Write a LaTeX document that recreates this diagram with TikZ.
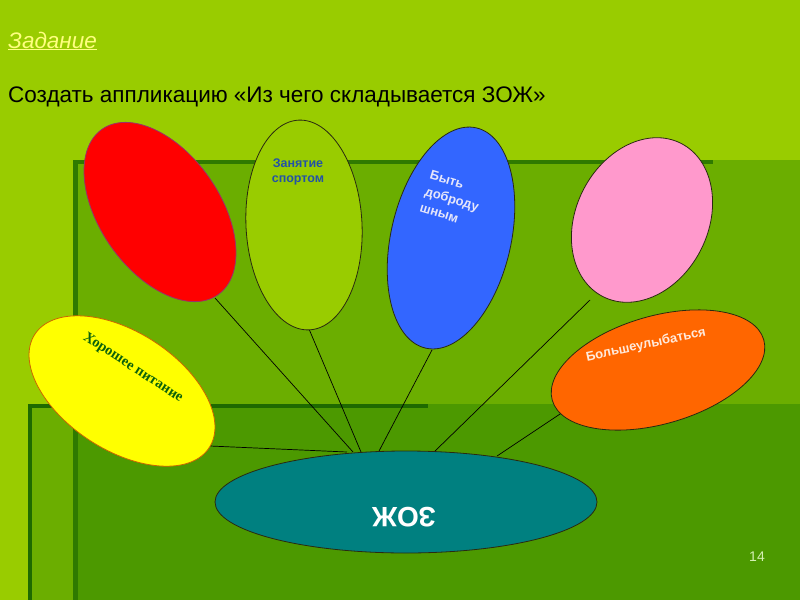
\documentclass[tikz,border=0pt]{standalone}
\usepackage{fontspec}
\setmainfont{Liberation Sans}
\newfontfamily\serifru{Liberation Serif}
\usetikzlibrary{shapes.geometric}
\definecolor{bgLight}{HTML}{99CC00}
\definecolor{bgMid}{HTML}{6BAE00}
\definecolor{bgDark}{HTML}{4C9900}
\definecolor{edgeA}{HTML}{2F7A00}
\definecolor{edgeB}{HTML}{1E6A00}
\definecolor{redF}{HTML}{FF0000}
\definecolor{redD}{HTML}{993366}
\definecolor{limeF}{HTML}{99CC00}
\definecolor{blueF}{HTML}{3366FF}
\definecolor{pinkF}{HTML}{FF99CC}
\definecolor{yelF}{HTML}{FFFF00}
\definecolor{yelD}{HTML}{CC6600}
\definecolor{orF}{HTML}{FF6600}
\definecolor{tealF}{HTML}{008080}
\definecolor{darkD}{HTML}{2A2A10}
\definecolor{sportC}{HTML}{2352A6}
\definecolor{kindC}{HTML}{E6E6FA}
\definecolor{foodC}{HTML}{0B620B}
\definecolor{smileC}{HTML}{FFEADC}
\definecolor{numC}{HTML}{D4F0B4}
\definecolor{zadC}{HTML}{FFFF80}
\tikzset{
  petal/.style={ellipse, inner sep=0pt, line width=0.8pt, draw=darkD},
  conn/.style={draw=black, line width=0.7pt}
}
\begin{document}
\begin{tikzpicture}[x=1pt,y=1pt]
\useasboundingbox (0,0) rectangle (800,-600);
% background
\fill[bgLight] (0,0) rectangle (800,-600);
\fill[bgMid] (73,-160) rectangle (800,-600);
\fill[bgMid] (28,-404) rectangle (73,-600);
\fill[bgDark] (73,-404) rectangle (800,-600);
\fill[edgeA] (73,-160) rectangle (78,-600);
\fill[edgeA] (73,-160) rectangle (713,-164);
\fill[edgeB] (28,-404) rectangle (32,-600);
\fill[edgeB] (28,-404) rectangle (428,-408);
% connector end points
\coordinate (rA) at (215,-298);
\coordinate (rB) at (353,-452);
\coordinate (lA) at (309,-329);
\coordinate (lB) at (361,-452);
\coordinate (bA) at (432,-350);
\coordinate (bB) at (378,-453);
\coordinate (pA) at (590,-300);
\coordinate (pB) at (433,-453);
\coordinate (oA) at (563,-412);
\coordinate (oB) at (497,-456);
\coordinate (yA) at (210,-446);
\coordinate (yB) at (347,-452);
\draw[conn] (rA) -- (rB);
\draw[conn] (lA) -- (lB);
\draw[conn] (bA) -- (bB);
\draw[conn] (pA) -- (pB);
\draw[conn] (oA) -- (oB);
\draw[conn] (yA) -- (yB);
% ellipses
\node[petal, fill=redF, draw=redD, minimum width=202pt, minimum height=120pt, rotate=-55] (red) at (160,-212) {};
\node[petal, fill=limeF, minimum width=210pt, minimum height=116pt, rotate=93] (lime) at (304,-225) {};
\node[petal, fill=blueF, minimum width=226pt, minimum height=120pt, rotate=77] (blue) at (451,-238) {};
\node[petal, fill=pinkF, minimum width=172pt, minimum height=132pt, rotate=63] (pink) at (642,-220) {};
\node[petal, fill=yelF, draw=yelD, minimum width=208pt, minimum height=118pt, rotate=-33] (yellow) at (122,-391) {};
\node[petal, fill=orF, minimum width=220pt, minimum height=108pt, rotate=16] (orange) at (658,-370) {};
\node[petal, fill=tealF, minimum width=382pt, minimum height=102pt] (zoj) at (406,-502) {};
% texts
\node[font=\bfseries\fontsize{12.5}{15}\selectfont, text=sportC, align=center] (tsport) at (298,-172) {Занятие\\спортом};
\node[font=\bfseries\fontsize{13}{17}\selectfont, text=kindC, align=left, rotate=-17] (tkind) at (452,-199) {Быть\\доброду\\шным};
\node[font=\serifru\bfseries\fontsize{14.5}{17}\selectfont, text=foodC, rotate=-33] (tfood) at (133,-368) {Хорошее питание};
\node[font=\bfseries\fontsize{13}{15}\selectfont, text=smileC, rotate=12] (tsmile) at (646,-345) {Большеулыбаться};
\node[font=\bfseries\fontsize{28}{30}\selectfont, text=white, rotate=180] (tzoj) at (404,-517) {ЗОЖ};
\node[font=\fontsize{14}{16}\selectfont, text=numC] (num) at (757,-557) {14};
\node[anchor=base west, font=\itshape\fontsize{22.5}{26}\selectfont, text=zadC, inner sep=0pt] (zad) at (8,-48) {\underline{Задание}};
\node[anchor=base west, font=\fontsize{22.5}{26}\selectfont, text=black, inner sep=0pt] (task) at (8,-102) {Создать аппликацию «Из чего складывается ЗОЖ»};
\end{tikzpicture}
\end{document}
